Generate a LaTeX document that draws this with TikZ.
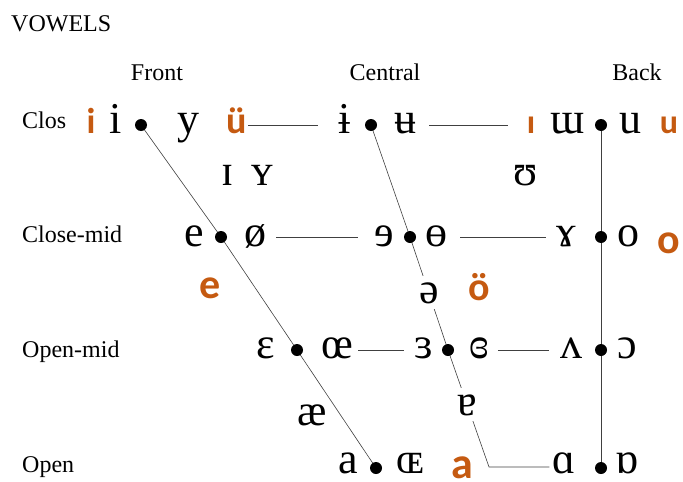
\documentclass[tikz,border=0pt]{standalone}
\usepackage{fontspec}
\setmainfont{Liberation Serif}
\newfontfamily\calibri{Carlito}
\usetikzlibrary{backgrounds}
\definecolor{vorange}{RGB}{197,90,17}
\tikzset{
  rowlabel/.style={anchor=base west, inner sep=0pt, font=\fontsize{24}{28}\selectfont},
  collabel/.style={anchor=base, inner sep=0pt, font=\fontsize{24}{28}\selectfont},
  vowel/.style={anchor=base, inner sep=1pt, font=\fontsize{44}{46}\selectfont},
  gloss/.style={anchor=base, inner sep=1pt, text=vorange, font=\calibri\bfseries\fontsize{#1}{#1}\selectfont},
  gap/.style={fill=white, inner sep=6pt},
  vdot/.style={circle, fill=black, inner sep=0pt, minimum size=12pt},
  chartline/.style={line width=0.6pt, black!75},
  link/.style={chartline, shorten <=#1}
}

\begin{document}
\begin{tikzpicture}[x=1pt, y=-1pt]
  \useasboundingbox (0,0) rectangle (683,482);

  % headings
  \node (title) [rowlabel] at (11,31) {VOWELS};
  \node (front) [collabel] at (157,80) {Front};
  \node (central) [collabel] at (385,80) {Central};
  \node (back) [collabel] at (637,80) {Back};
  \node (close) [rowlabel] at (22,128) {Clos};
  \node (closemid) [rowlabel] at (22,242) {Close-mid};
  \node (openmid) [rowlabel] at (22,357) {Open-mid};
  \node (open) [rowlabel] at (22,472) {Open};

  % dots
  \node (fd1) [vdot] at (141,125) {};
  \node (fd2) [vdot] at (221,237) {};
  \node (fd3) [vdot] at (297,350) {};
  \node (fd4) [vdot] at (376,468) {};
  \node (cd1) [vdot] at (371,125) {};
  \node (cd2) [vdot] at (410,237) {};
  \node (cd3) [vdot] at (448,350) {};
  \coordinate (copen) at (489,467);
  \node (bd1) [vdot] at (601,125) {};
  \node (bd2) [vdot] at (601,237) {};
  \node (bd3) [vdot] at (601,350) {};
  \node (bd4) [vdot] at (601,468) {};

  % close
  \node (iclose) [vowel] at (116,133) {i};
  \node (yclose) [vowel] at (188,133) {y};
  \node (ibar) [vowel] at (345,133) {ɨ};
  \node (ubar) [vowel] at (405,133) {ʉ};
  \node (turnm) [vowel] at (568,133) {ɯ};
  \node (uclose) [vowel] at (630,133) {u};
  \node (gi) [gloss=36] at (91,133) {i};
  \node (guuml) [gloss=38] at (237,133) {ü};
  \node (gdotless) [gloss=34] at (531,133) {ı};
  \node (gu) [gloss=34] at (669,133) {u};

  % near-close
  \node (smalli) [vowel] at (228,185) {ɪ};
  \node (smally) [vowel] at (262,185) {ʏ};
  \node (upsilon) [vowel] at (526,185) {ʊ};

  % close-mid
  \node (eclose) [vowel] at (194,246) {e};
  \node (oslash) [vowel] at (255,246) {ø};
  \node (reve) [vowel] at (384,246) {ɘ};
  \node (obar) [vowel] at (436,246) {ɵ};
  \node (ramshorn) [vowel] at (566,246) {ɤ};
  \node (oclose) [vowel] at (628,246) {o};
  \node (go) [gloss=42] at (669,253) {o};

  % mid
  \node (ge) [gloss=42] at (210,298) {e};
  \node (schwa) [vowel, gap] at (429,303) {ə};
  \node (gouml) [gloss=40] at (479,300) {ö};

  % open-mid
  \node (epsilon) [vowel] at (266,358) {ɛ};
  \node (oe) [vowel] at (337,358) {œ};
  \node (revepsilon) [vowel] at (424,358) {ɜ};
  \node (closedeps) [vowel] at (479,358) {ɞ};
  \node (turnv) [vowel] at (571,358) {ʌ};
  \node (openo) [vowel] at (627,358) {ɔ};

  % near-open
  \node (ash) [vowel] at (312,425) {æ};
  \node (turna) [vowel, gap] at (467,415) {ɐ};

  % open
  \node (aopen) [vowel] at (348,473) {a};
  \node (smalloe) [vowel] at (410,473) {ɶ};
  \node (ga) [gloss=44] at (462,478) {a};
  \node (alpha) [vowel] at (564,473) {ɑ};
  \node (turnalpha) [vowel] at (627,473) {ɒ};

  \begin{scope}[on background layer]
    \draw [chartline] (fd1.center) -- (fd2.center) -- (fd3.center) -- (fd4.center);
    \draw [chartline, shorten >=2pt] (cd1.center) -- (cd2.center) -- (cd3.center) -- (copen) -- (alpha.west |- copen);
    \draw [chartline] (bd1.center) -- (bd4.center);
    \draw [link=0pt, shorten >=20pt] (guuml.east |- cd1) -- (ibar.west |- cd1);
    \draw [link=12pt, shorten >=18pt] (ubar.east |- cd1) -- (gdotless.west |- cd1);
    \draw [link=9pt, shorten >=15pt] (oslash.east |- cd2) -- (reve.west |- cd2);
    \draw [link=12pt, shorten >=9pt] (obar.east |- cd2) -- (ramshorn.west |- cd2);
    \draw [link=4pt, shorten >=10pt] (oe.east |- cd3) -- (revepsilon.west |- cd3);
    \draw [link=8pt, shorten >=10pt] (closedeps.east |- cd3) -- (turnv.west |- cd3);
  \end{scope}

\end{tikzpicture}
\end{document}
